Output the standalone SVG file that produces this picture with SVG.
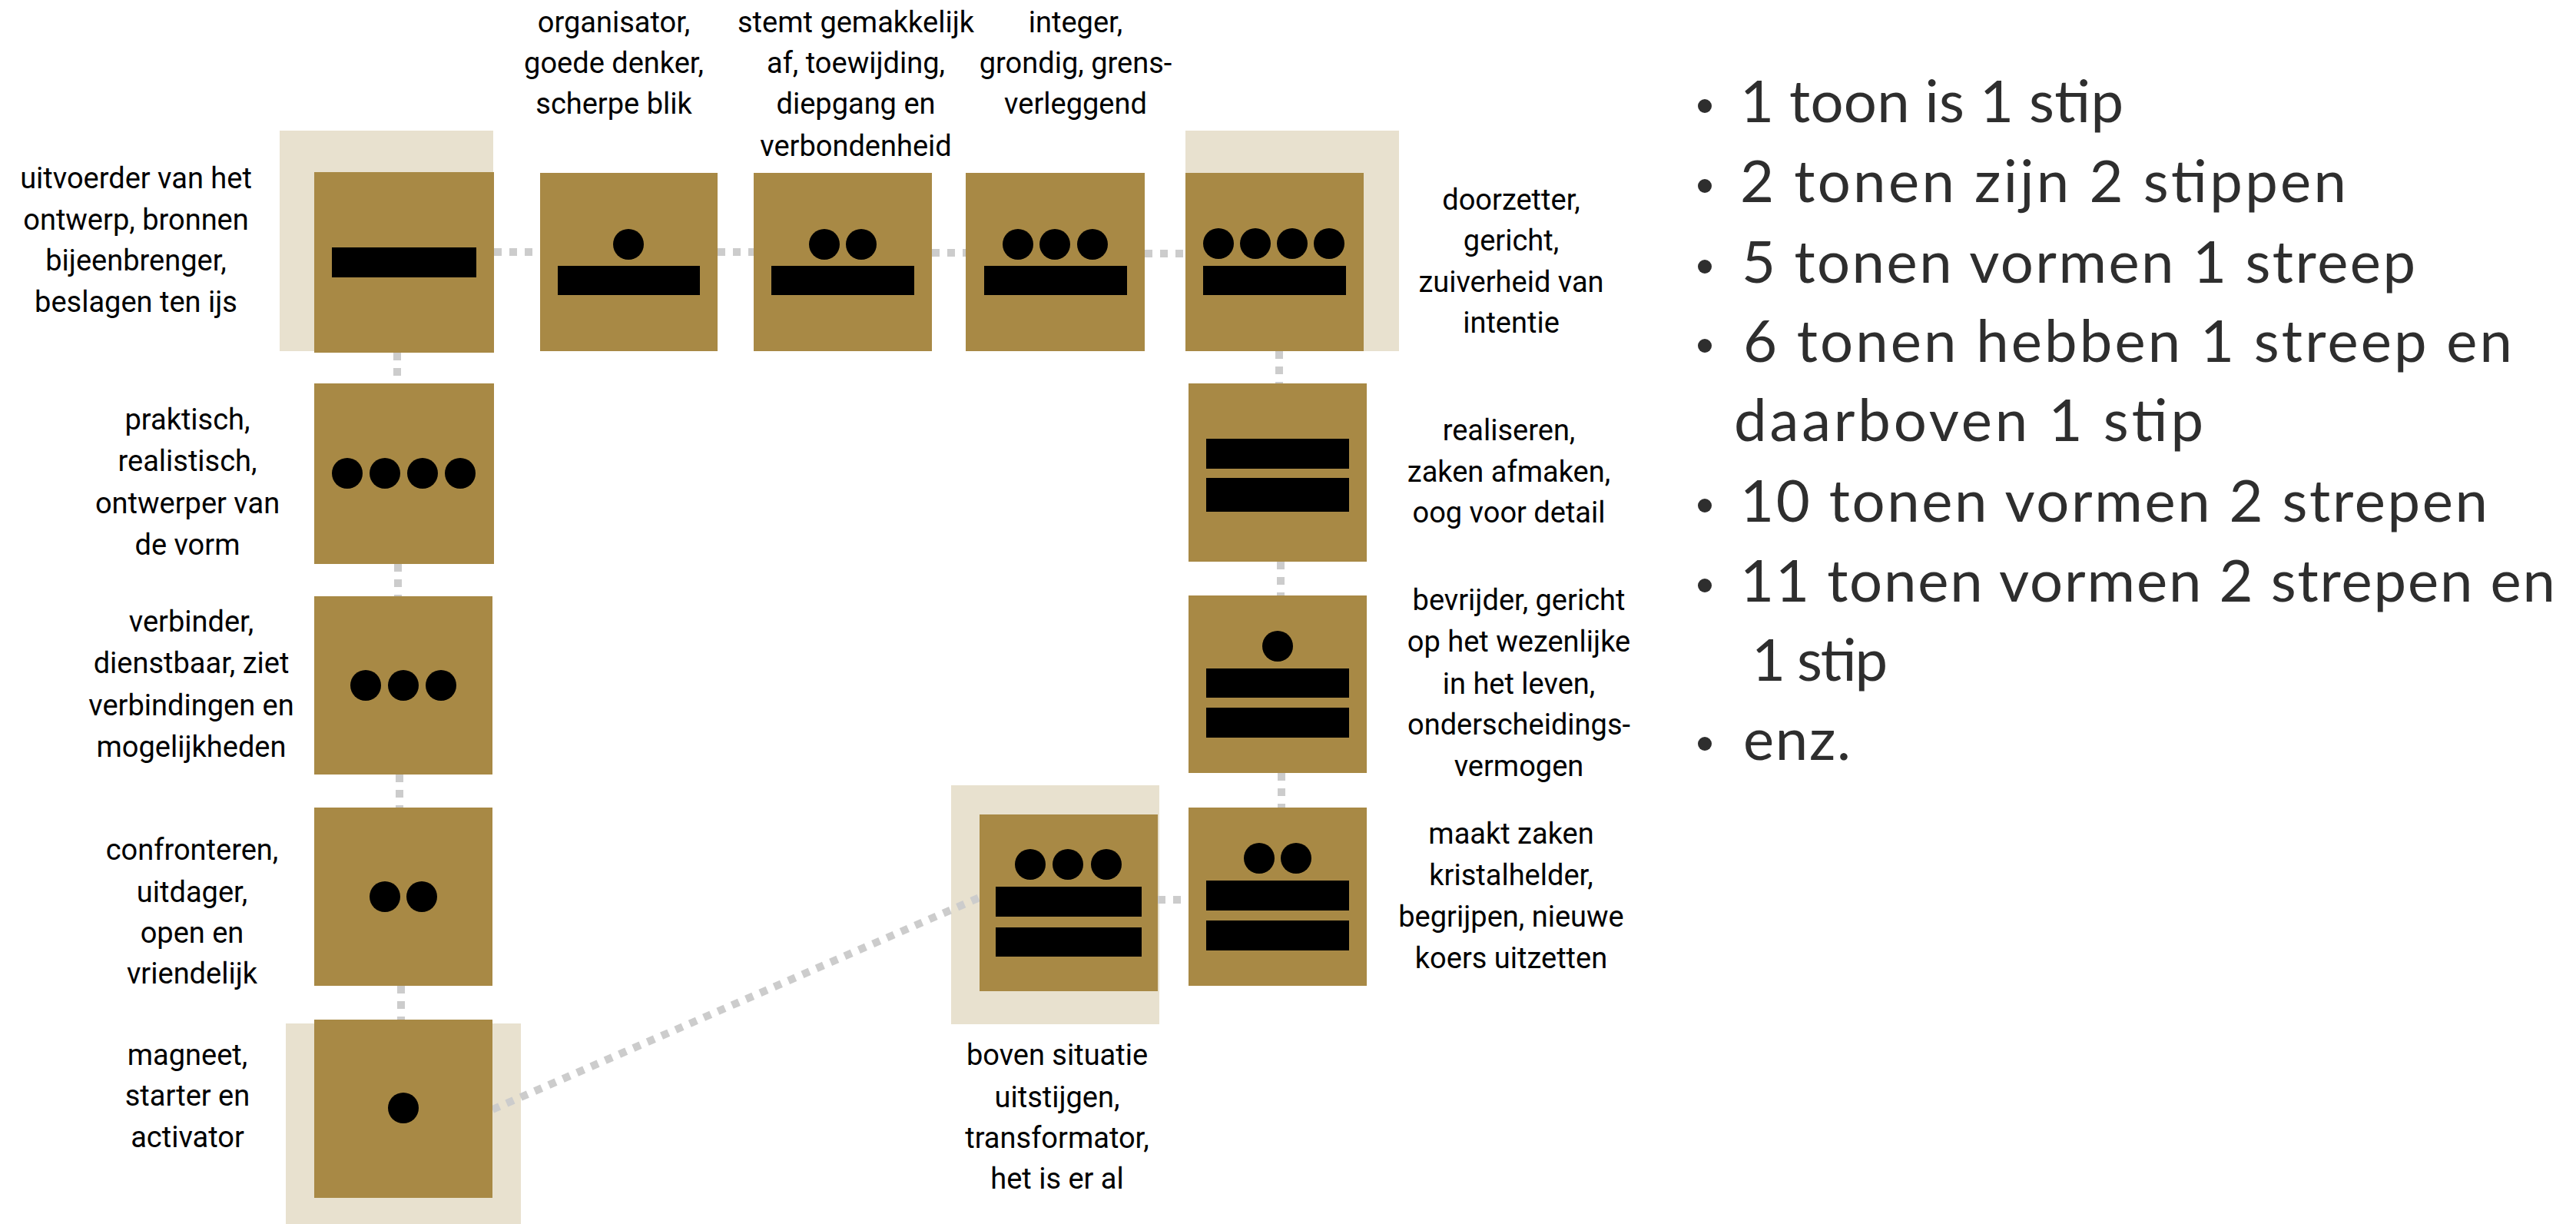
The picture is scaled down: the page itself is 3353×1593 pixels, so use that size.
<svg xmlns="http://www.w3.org/2000/svg" width="3353" height="1593" viewBox="0 0 3353 1593">
<style>
.bg{fill:#ffffff}
.beige{fill:#E8E1CF}
.gold{fill:#A88945}
.g{fill:#000000}
.conn{stroke:#CCCCCC;stroke-width:10;stroke-dasharray:10 10;fill:none}
.lbl{font-family:Roboto,"Liberation Sans",sans-serif;font-size:38px;text-anchor:middle;fill:#000000}
.list{font-family:Lato,"Liberation Sans",sans-serif;font-size:76px;font-weight:400;fill:#2e2e2e}
.bul{fill:#2e2e2e}
</style>
<rect class="bg" x="0" y="0" width="3353" height="1593"/>
<g id="highlights">
<rect class="beige" x="364" y="170" width="278" height="287"/>
<rect class="beige" x="1543" y="170" width="278" height="287"/>
<rect class="beige" x="1238" y="1022" width="271" height="311"/>
<rect class="beige" x="372" y="1332" width="306" height="261"/>
</g>
<g id="connectors">
<line class="conn" x1="643" y1="328" x2="703" y2="328"/>
<line class="conn" x1="934" y1="328" x2="981" y2="328"/>
<line class="conn" x1="1213" y1="329" x2="1257" y2="329"/>
<line class="conn" x1="1490" y1="330" x2="1543" y2="330"/>
<line class="conn" x1="1665" y1="457" x2="1665" y2="499"/>
<line class="conn" x1="1667" y1="731" x2="1667" y2="775"/>
<line class="conn" x1="1668" y1="1006" x2="1668" y2="1051"/>
<line class="conn" x1="1507" y1="1171" x2="1547" y2="1171"/>
<line class="conn" x1="517" y1="459" x2="517" y2="499"/>
<line class="conn" x1="518" y1="734" x2="518" y2="776"/>
<line class="conn" x1="520" y1="1008" x2="520" y2="1051"/>
<line class="conn" x1="522" y1="1283" x2="522" y2="1327"/>
<line class="conn" x1="641" y1="1444" x2="1275" y2="1168"/>
</g>
<g id="node-A">
<rect class="gold" x="409" y="224" width="234" height="235"/>
<rect class="g" x="432" y="322" width="188" height="39"/>
<text class="lbl" x="177" y="245">uitvoerder van het</text>
<text class="lbl" x="177" y="299">ontwerp, bronnen</text>
<text class="lbl" x="177" y="352">bijeenbrenger,</text>
<text class="lbl" x="177" y="406">beslagen ten ijs</text>
</g>
<g id="node-B">
<rect class="gold" x="703" y="225" width="231" height="232"/>
<circle class="g" cx="818" cy="318" r="20"/>
<rect class="g" x="726" y="346" width="185" height="38"/>
<text class="lbl" x="799" y="42">organisator,</text>
<text class="lbl" x="799" y="95">goede denker,</text>
<text class="lbl" x="799" y="148">scherpe blik</text>
</g>
<g id="node-C">
<rect class="gold" x="981" y="225" width="232" height="232"/>
<circle class="g" cx="1073" cy="318" r="20"/>
<circle class="g" cx="1121" cy="318" r="20"/>
<rect class="g" x="1004" y="346" width="186" height="38"/>
<text class="lbl" x="1114" y="42">stemt gemakkelijk</text>
<text class="lbl" x="1114" y="95">af, toewijding,</text>
<text class="lbl" x="1114" y="148">diepgang en</text>
<text class="lbl" x="1114" y="203">verbondenheid</text>
</g>
<g id="node-D">
<rect class="gold" x="1257" y="225" width="233" height="232"/>
<circle class="g" cx="1325" cy="318" r="20"/>
<circle class="g" cx="1373" cy="318" r="20"/>
<circle class="g" cx="1422" cy="318" r="20"/>
<rect class="g" x="1281" y="346" width="186" height="38"/>
<text class="lbl" x="1400" y="42">integer,</text>
<text class="lbl" x="1400" y="95">grondig, grens-</text>
<text class="lbl" x="1400" y="148">verleggend</text>
</g>
<g id="node-E">
<rect class="gold" x="1543" y="225" width="232" height="232"/>
<circle class="g" cx="1586" cy="317" r="20"/>
<circle class="g" cx="1634" cy="317" r="20"/>
<circle class="g" cx="1682" cy="317" r="20"/>
<circle class="g" cx="1730" cy="317" r="20"/>
<rect class="g" x="1566" y="346" width="186" height="38"/>
<text class="lbl" x="1967" y="273">doorzetter,</text>
<text class="lbl" x="1967" y="326">gericht,</text>
<text class="lbl" x="1967" y="380">zuiverheid van</text>
<text class="lbl" x="1967" y="433">intentie</text>
</g>
<g id="node-F">
<rect class="gold" x="1547" y="499" width="232" height="232"/>
<rect class="g" x="1570" y="571" width="186" height="39"/>
<rect class="g" x="1570" y="622" width="186" height="44"/>
<text class="lbl" x="1964" y="573">realiseren,</text>
<text class="lbl" x="1964" y="627">zaken afmaken,</text>
<text class="lbl" x="1964" y="680">oog voor detail</text>
</g>
<g id="node-G">
<rect class="gold" x="1547" y="775" width="232" height="231"/>
<circle class="g" cx="1663" cy="841" r="20"/>
<rect class="g" x="1570" y="870" width="186" height="38"/>
<rect class="g" x="1570" y="921" width="186" height="39"/>
<text class="lbl" x="1977" y="794">bevrijder, gericht</text>
<text class="lbl" x="1977" y="848">op het wezenlijke</text>
<text class="lbl" x="1977" y="903">in het leven,</text>
<text class="lbl" x="1977" y="956">onderscheidings-</text>
<text class="lbl" x="1977" y="1010">vermogen</text>
</g>
<g id="node-H">
<rect class="gold" x="1547" y="1051" width="232" height="232"/>
<circle class="g" cx="1639" cy="1117" r="20"/>
<circle class="g" cx="1687" cy="1117" r="20"/>
<rect class="g" x="1570" y="1146" width="186" height="39"/>
<rect class="g" x="1570" y="1198" width="186" height="39"/>
<text class="lbl" x="1967" y="1098">maakt zaken</text>
<text class="lbl" x="1967" y="1152">kristalhelder,</text>
<text class="lbl" x="1967" y="1206">begrijpen, nieuwe</text>
<text class="lbl" x="1967" y="1260">koers uitzetten</text>
</g>
<g id="node-I">
<rect class="gold" x="1275" y="1060" width="232" height="230"/>
<circle class="g" cx="1341" cy="1125" r="20"/>
<circle class="g" cx="1390" cy="1125" r="20"/>
<circle class="g" cx="1440" cy="1125" r="20"/>
<rect class="g" x="1296" y="1154" width="190" height="39"/>
<rect class="g" x="1296" y="1207" width="190" height="38"/>
<text class="lbl" x="1376" y="1386">boven situatie</text>
<text class="lbl" x="1376" y="1441">uitstijgen,</text>
<text class="lbl" x="1376" y="1494">transformator,</text>
<text class="lbl" x="1376" y="1547">het is er al</text>
</g>
<g id="node-J">
<rect class="gold" x="409" y="499" width="234" height="235"/>
<circle class="g" cx="452" cy="616" r="20"/>
<circle class="g" cx="501" cy="616" r="20"/>
<circle class="g" cx="550" cy="616" r="20"/>
<circle class="g" cx="599" cy="616" r="20"/>
<text class="lbl" x="244" y="559">praktisch,</text>
<text class="lbl" x="244" y="613">realistisch,</text>
<text class="lbl" x="244" y="668">ontwerper van</text>
<text class="lbl" x="244" y="722">de vorm</text>
</g>
<g id="node-K">
<rect class="gold" x="409" y="776" width="232" height="232"/>
<circle class="g" cx="476" cy="892" r="20"/>
<circle class="g" cx="525" cy="892" r="20"/>
<circle class="g" cx="574" cy="892" r="20"/>
<text class="lbl" x="249" y="822">verbinder,</text>
<text class="lbl" x="249" y="876">dienstbaar, ziet</text>
<text class="lbl" x="249" y="931">verbindingen en</text>
<text class="lbl" x="249" y="985">mogelijkheden</text>
</g>
<g id="node-L">
<rect class="gold" x="409" y="1051" width="232" height="232"/>
<circle class="g" cx="501" cy="1167" r="20"/>
<circle class="g" cx="549" cy="1167" r="20"/>
<text class="lbl" x="250" y="1119">confronteren,</text>
<text class="lbl" x="250" y="1174">uitdager,</text>
<text class="lbl" x="250" y="1227">open en</text>
<text class="lbl" x="250" y="1280">vriendelijk</text>
</g>
<g id="node-M">
<rect class="gold" x="409" y="1327" width="232" height="232"/>
<circle class="g" cx="525" cy="1442" r="20"/>
<text class="lbl" x="244" y="1386">magneet,</text>
<text class="lbl" x="244" y="1439">starter en</text>
<text class="lbl" x="244" y="1493">activator</text>
</g>
<g id="legend">
<circle class="bul" cx="2219" cy="138" r="9"/>
<circle class="bul" cx="2219" cy="242" r="9"/>
<circle class="bul" cx="2219" cy="347" r="9"/>
<circle class="bul" cx="2219" cy="450" r="9"/>
<circle class="bul" cx="2219" cy="658" r="9"/>
<circle class="bul" cx="2219" cy="762" r="9"/>
<circle class="bul" cx="2219" cy="968" r="9"/>
<text class="list" x="2265" y="159" textLength="499" lengthAdjust="spacing">1 toon is 1 stip</text>
<text class="list" x="2265" y="263" textLength="789" lengthAdjust="spacing">2 tonen zijn 2 stippen</text>
<text class="list" x="2267" y="368" textLength="877" lengthAdjust="spacing">5 tonen vormen 1 streep</text>
<text class="list" x="2269" y="471" textLength="1001" lengthAdjust="spacing">6 tonen hebben 1 streep en</text>
<text class="list" x="2257" y="574" textLength="611" lengthAdjust="spacing">daarboven 1 stip</text>
<text class="list" x="2265" y="679" textLength="973" lengthAdjust="spacing">10 tonen vormen 2 strepen</text>
<text class="list" x="2265" y="783" textLength="1061" lengthAdjust="spacing">11 tonen vormen 2 strepen en</text>
<text class="list" x="2280" y="886" textLength="177" lengthAdjust="spacing">1 stip</text>
<text class="list" x="2269" y="989" textLength="140" lengthAdjust="spacing">enz.</text>
</g>
</svg>
